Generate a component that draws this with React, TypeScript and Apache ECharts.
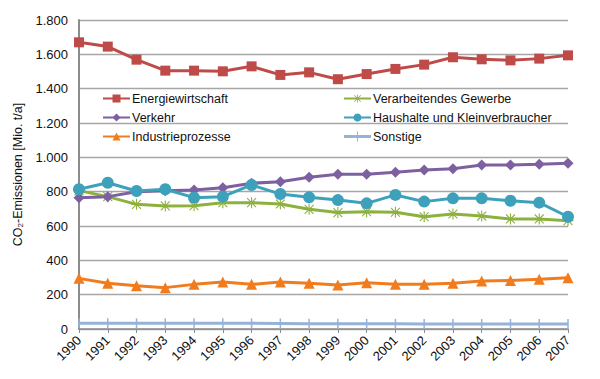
import React, { useEffect, useRef } from "react";
import * as echarts from "echarts";

const years = ["1990","1991","1992","1993","1994","1995","1996","1997","1998","1999","2000","2001","2002","2003","2004","2005","2006","2007"];
const energie = [1670,1645,1569,1505,1505,1501,1530,1480,1495,1455,1485,1515,1540,1583,1571,1565,1575,1594];
const verkehr = [765,771,800,806,810,823,849,858,884,901,901,913,926,934,955,955,959,965];
const industrie = [295,266,252,241,260,274,260,274,266,256,270,260,260,266,280,283,290,299];
const gewerbe = [806,771,726,717,718,736,736,728,697,678,683,680,654,670,658,641,641,631];
const haushalte = [814,852,804,814,765,771,839,786,767,751,732,781,742,761,761,747,736,654];
const sonstige = [34,34,33,33,33,33,33,32,31,30,30,30,29,29,29,29,29,29];
const yTicks = [0, 200, 400, 600, 800, 1000, 1200, 1400, 1600, 1800];

const FONT = 'Arial, "Liberation Sans", sans-serif';
const starPath = "path://M4.5,0L5.5,0L5.5,10L4.5,10Z M0.6,1.3L1.3,0.6L9.4,8.7L8.7,9.4Z M8.7,0.6L9.4,1.3L1.3,9.4L0.6,8.7Z M0,4.5L10,4.5L10,5.5L0,5.5Z";
const sonstigeIcon = "path://M0,3.5L27,3.5L27,6.5L0,6.5Z M13,0L14,0L14,10L13,10Z";

export default function App() {
  const ref = useRef<HTMLDivElement>(null);
  useEffect(() => {
    const chart = echarts.init(ref.current!, null, { renderer: "svg" });
    const mk = (name: string, data: number[], color: string, symbol: string, size: any) => ({
      name, type: "line", data, symbol, symbolSize: size, showSymbol: true,
      lineStyle: { color, width: 3 }, itemStyle: { color }, z: 3,
    });
    const legendCommon = {
      orient: "vertical", itemWidth: 27, itemHeight: 10, itemGap: 6,
      textStyle: { fontFamily: FONT, fontSize: 12.5, color: "#111", padding: [0, 0, 0, -3] },
    };
    chart.setOption({
      animation: false,
      backgroundColor: "#fff",
      textStyle: { fontFamily: FONT },
      grid: { left: 79, right: 32, top: 20, bottom: 50 },
      legend: [
        { ...legendCommon, left: 97, top: 87, data: ["Energiewirtschaft", "Verkehr", "Industrieprozesse"] },
        { ...legendCommon, left: 338, top: 87, data: ["Verarbeitendes Gewerbe", "Haushalte und Kleinverbraucher", { name: "Sonstige", icon: sonstigeIcon }] },
      ],
      xAxis: {
        type: "category", data: years, boundaryGap: false,
        axisLine: { lineStyle: { color: "#8c8c8c", width: 1.5 } },
        axisTick: { show: true, length: 4, lineStyle: { color: "#8c8c8c" } },
        axisLabel: { rotate: 45, fontFamily: FONT, fontSize: 13, color: "#111", margin: 9, interval: 0 },
      },
      yAxis: {
        type: "value", min: 0, max: 1800, interval: 200,
        name: "{a|CO}{b|2}{a|-Emissionen [Mio. t/a]}",
        nameLocation: "middle", nameGap: 46,
        nameTextStyle: {
          rich: {
            a: { fontFamily: FONT, fontSize: 12.5, color: "#111" },
            b: { fontFamily: FONT, fontSize: 8, color: "#111", padding: [6, 0, 0, 0] },
          },
        },
        axisLine: { show: true, lineStyle: { color: "#8c8c8c", width: 2 } },
        axisTick: { show: false },
        splitLine: { lineStyle: { color: "#a6a6a6", width: 1.3 } },
        axisLabel: {
          fontFamily: FONT, fontSize: 13, color: "#111", margin: 11,
          formatter: (v: number) => (yTicks.includes(v) ? v.toLocaleString("de-DE") : ""),
        },
      },
      series: [
        mk("Energiewirtschaft", energie, "#be4b48", "rect", 10),
        mk("Verarbeitendes Gewerbe", gewerbe, "#8db13f", starPath, 11),
        mk("Verkehr", verkehr, "#7d60a0", "diamond", 11),
        mk("Haushalte und Kleinverbraucher", haushalte, "#3ea1bb", "circle", 12),
        mk("Industrieprozesse", industrie, "#f07c1e", "triangle", 11),
        mk("Sonstige", sonstige, "#95b3d7", "rect", [1.5, 10]),
      ],
    });
    return () => chart.dispose();
  }, []);
  return <div ref={ref} style={{ width: 600, height: 379, position: "absolute", left: 0, top: 0 }} />;
}
